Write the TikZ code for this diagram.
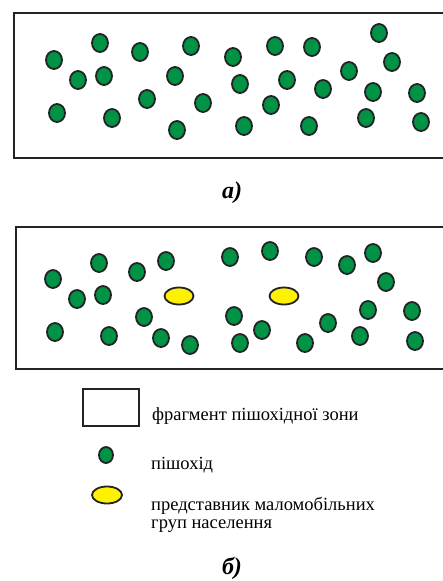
\documentclass[tikz,border=0pt]{standalone}
\usepackage{fontspec}
\setmainfont{Liberation Serif}
\definecolor{pedgreen}{RGB}{0,146,69}
\definecolor{mmgyellow}{RGB}{255,242,0}
\definecolor{edgegray}{RGB}{35,35,35}
\tikzset{
  zone/.style={draw=edgegray, line width=2pt},
  ped/.style={draw=edgegray, line width=1.8pt, fill=pedgreen},
  mmg/.style={draw=edgegray, line width=1.8pt, fill=mmgyellow},
  legtext/.style={anchor=base west, inner sep=0pt, font=\fontsize{18.5}{18}\selectfont, align=left},
  caption/.style={inner sep=0pt, font=\fontsize{24}{24}\selectfont\bfseries\itshape}
}
\begin{document}
\begin{tikzpicture}[x=1pt,y=-1pt]
\path[use as bounding box, clip] (0,0) rectangle (443,581);
\fill[white] (0,0) rectangle (443,581);
% zone a
\draw[zone] (14,13) rectangle (470,158);
\foreach \px/\py in {54/60,100/43,140/52,191/46,233/57,275/46,312/47,379/33,392/62,349/71,
  78/80,104/76,175/76,240/84,287/80,323/89,373/92,417/93,147/99,203/103,271/105,
  57/113,112/118,177/130,244/126,309/126,366/118,421/122}
  \draw[ped] (\px,\py) ellipse [x radius=8pt, y radius=9pt];
\node[caption] (capa) at (232,193) {а)};
% zone b
\draw[zone] (16,227) rectangle (470,369);
\foreach \px/\py in {53/279,99/263,137/272,166/261,230/257,270/251,314/257,347/265,373/253,386/282,
  77/299,103/295,144/317,234/316,368/310,412/311,328/323,262/330,
  55/332,109/336,161/338,190/345,240/343,305/343,360/336,415/341}
  \draw[ped] (\px,\py) ellipse [x radius=8pt, y radius=9pt];
\draw[mmg] (179,296) ellipse [x radius=14.5pt, y radius=8.5pt];
\draw[mmg] (284,296) ellipse [x radius=14.5pt, y radius=8.5pt];
% legend
\draw[zone] (83,389) rectangle (139,426);
\node[legtext] (l1) at (152,420) {фрагмент пішохідної зони};
\draw[ped] (106,455) ellipse [x radius=7pt, y radius=8pt];
\node[legtext] (l2) at (151,469) {пішохід};
\draw[mmg] (107,495) ellipse [x radius=15pt, y radius=8.5pt];
\node[legtext] (l3) at (151,510) {представник маломобільних};
\node[legtext] (l4) at (151,528) {груп населення};
\node[caption] (capb) at (232,568) {б)};
\end{tikzpicture}
\end{document}
